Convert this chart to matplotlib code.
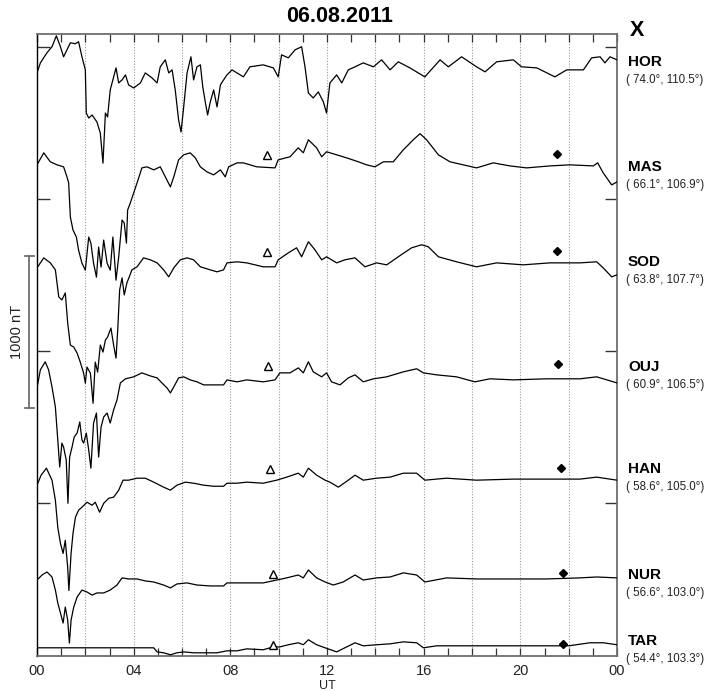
import matplotlib
matplotlib.use("Agg")
import matplotlib.pyplot as plt
import matplotlib.transforms as mtransforms

plt.rcParams['font.family'] = ['Liberation Sans', 'DejaVu Sans']

# ---------------- data (X component, nT deviation from each station's quiet level) ----------------
stations = ['HOR', 'MAS', 'SOD', 'OUJ', 'HAN', 'NUR', 'TAR']
coords = ['( 74.0°, 110.5°)', '( 66.1°, 106.9°)', '( 63.8°, 107.7°)', '( 60.9°, 106.5°)',
          '( 58.6°, 105.0°)', '( 56.6°, 103.0°)', '( 54.4°, 103.3°)']
offsets = [3850, 3225, 2580, 1810, 1150, 500, 60]   # plotting level of each station (nT)

HOR_t = [0.00,0.14,0.41,0.62,0.80,0.97,1.10,1.24,1.38,1.59,
         1.72,1.86,2.00,2.04,2.14,2.28,2.48,2.62,2.73,2.83,
         2.92,3.03,3.27,3.38,3.52,3.66,3.79,4.00,4.28,4.48,
         4.76,4.97,5.10,5.31,5.45,5.59,5.72,5.86,5.96,6.07,
         6.21,6.37,6.48,6.62,6.76,6.86,6.97,7.06,7.17,7.31,
         7.45,7.59,7.72,7.86,8.07,8.54,8.81,9.36,9.78,9.98,
         10.12,10.40,10.68,10.95,11.09,11.23,11.43,11.64,11.85,11.98,
         12.12,12.40,12.61,12.88,13.16,13.50,13.92,14.26,14.61,14.95,
         15.43,16.05,16.68,17.02,17.57,18.19,18.54,19.02,19.71,20.05,
         20.68,21.43,21.92,22.61,22.95,23.30,23.50,23.71,24.00]
HOR_x = [-20,46,112,152,224,152,86,132,178,172,
         185,86,0,-284,-317,-297,-343,-416,-614,-284,
         -310,-132,13,-86,-66,-33,-99,-119,-86,-20,
         -53,-86,20,66,-20,0,-132,-330,-409,-244,
         -20,86,-66,20,33,-112,-218,-297,-211,-132,
         -244,-99,-66,-33,0,-46,20,33,13,-46,
         99,79,132,152,20,-152,-185,-145,-211,-284,
         -86,-33,-86,0,20,46,20,66,0,53,
         13,-46,66,20,86,20,-13,53,66,20,
         13,-46,0,0,79,86,46,86,66]

MAS_t = [0.00,0.28,0.55,0.83,1.10,1.24,1.31,1.38,1.49,1.63,
         1.72,1.86,2.00,2.14,2.23,2.34,2.46,2.55,2.65,2.76,
         2.90,3.03,3.14,3.27,3.38,3.52,3.61,3.70,3.75,3.86,
         4.00,4.14,4.34,4.55,4.83,5.10,5.31,5.52,5.66,5.86,
         6.07,6.34,6.55,6.76,7.03,7.31,7.59,7.79,7.93,8.28,
         8.54,9.09,9.85,9.98,10.47,10.81,11.02,11.23,11.57,11.78,
         11.98,12.40,12.81,13.30,13.64,13.98,14.33,14.74,15.16,15.57,
         15.85,16.12,16.61,17.09,17.64,18.19,18.88,19.57,20.26,21.23,
         22.05,23.02,23.20,23.43,23.78,24.00]
MAS_x = [0,79,20,0,-13,-79,-119,-343,-429,-475,
         -561,-647,-693,-475,-515,-647,-739,-541,-673,-495,
         -647,-693,-475,-759,-607,-363,-383,-515,-297,-251,
         -185,-119,-20,-13,-33,-13,-79,-145,-79,33,
         66,79,46,-13,-46,-66,-33,-79,-13,13,
         13,-13,-20,33,53,112,79,165,112,53,
         86,66,46,20,0,-13,20,20,99,165,
         205,165,66,20,0,-20,13,-7,-20,-7,
         0,-7,13,-53,-132,-112]

SOD_t = [0.00,0.28,0.55,0.76,0.90,1.03,1.17,1.27,1.38,1.52,
         1.66,1.79,1.93,2.00,2.07,2.21,2.32,2.41,2.51,2.62,
         2.73,2.83,2.92,3.06,3.17,3.27,3.34,3.42,3.52,3.61,
         3.72,3.93,4.14,4.41,4.69,4.97,5.24,5.45,5.66,5.93,
         6.21,6.48,6.76,7.17,7.45,7.72,7.86,8.28,8.68,9.36,
         9.85,9.98,10.40,10.74,10.95,11.23,11.50,11.78,11.98,12.40,
         12.74,13.16,13.57,14.05,14.47,14.95,15.50,15.92,16.19,16.61,
         17.36,18.19,19.02,20.12,21.23,22.47,23.16,23.43,23.78,24.00]
SOD_x = [-33,33,0,-46,-224,-244,-198,-396,-541,-554,
         -594,-653,-726,-792,-686,-726,-924,-653,-719,-541,
         -587,-508,-488,-429,-541,-627,-442,-178,-99,-211,
         -132,-46,-26,33,20,0,-46,-92,-33,20,
         33,20,-26,-46,-59,-46,0,7,0,-26,
         -26,20,66,99,40,139,86,20,40,0,
         20,33,-26,0,-13,40,99,119,106,40,
         7,-26,0,-13,0,0,7,-33,-92,-79]

OUJ_t = [0.00,0.14,0.34,0.48,0.62,0.76,0.86,0.94,1.03,1.10,
         1.21,1.28,1.35,1.45,1.54,1.66,1.77,1.86,1.93,2.04,
         2.14,2.23,2.34,2.46,2.55,2.65,2.76,2.90,3.03,3.17,
         3.31,3.45,3.66,4.00,4.34,4.69,4.97,5.17,5.38,5.52,
         5.66,5.86,6.07,6.34,6.62,6.90,7.31,7.72,7.86,8.28,
         8.68,9.36,9.85,10.05,10.47,10.81,11.02,11.23,11.43,11.78,
         11.98,12.19,12.54,12.88,13.16,13.50,13.92,14.47,15.16,15.71,
         15.99,16.54,17.36,18.12,18.74,19.71,21.09,22.47,23.16,24.00]
OUJ_x = [-53,66,119,66,-46,-178,-396,-574,-416,-442,
         -528,-812,-508,-442,-376,-350,-277,-396,-416,-350,
         -462,-581,-284,-218,-508,-310,-244,-218,-284,-198,
         -132,-20,7,20,46,26,13,-20,-53,-86,
         -46,13,20,0,-13,-33,-33,-33,0,-13,
         0,-13,0,46,46,79,46,119,53,20,
         46,-13,-33,13,33,-13,7,20,53,73,
         46,33,20,-13,7,0,7,7,20,-20]

HAN_t = [0.00,0.17,0.39,0.62,0.76,0.86,0.97,1.08,1.17,1.27,
         1.32,1.41,1.49,1.59,1.72,1.86,2.07,2.28,2.41,2.59,
         2.76,2.97,3.17,3.38,3.56,3.79,4.14,4.48,4.83,5.24,
         5.52,5.79,6.14,6.48,6.90,7.31,7.72,7.86,8.28,8.68,
         9.36,9.92,10.33,10.81,11.02,11.23,11.57,11.92,12.12,12.47,
         12.88,13.16,13.50,14.05,14.61,15.16,15.71,16.05,16.95,18.19,
         19.71,21.09,22.47,23.16,24.00]
HAN_x = [-33,33,79,0,-132,-310,-416,-482,-396,-574,
         -726,-482,-350,-244,-198,-178,-145,-165,-145,-211,
         -152,-119,-112,-66,0,0,13,13,-13,-46,
         -66,-33,-13,-20,-33,-40,-40,-20,-20,-13,
         -20,0,20,46,20,79,33,0,-13,-46,
         0,33,0,13,20,46,46,0,13,0,
         7,7,7,20,0]

NUR_t = [0.00,0.21,0.41,0.62,0.76,0.86,0.97,1.08,1.17,1.27,
         1.34,1.41,1.52,1.66,1.86,2.07,2.28,2.48,2.76,3.03,
         3.31,3.52,3.79,4.14,4.48,4.83,5.24,5.52,5.79,6.21,
         6.62,7.17,7.72,7.86,8.28,8.68,9.36,9.92,10.33,10.81,
         11.02,11.23,11.57,11.92,12.26,12.67,13.16,13.50,14.05,14.61,
         15.16,15.71,16.05,16.95,18.19,19.71,21.09,22.47,23.16,24.00]
NUR_x = [-7,26,46,13,-73,-158,-224,-290,-185,-271,
         -422,-271,-185,-119,-73,-86,-106,-92,-92,-73,
         -40,7,0,0,-13,-20,-40,-59,-33,-26,
         -40,-46,-46,-26,-26,-26,-26,-7,7,26,
         7,59,7,-20,-40,-20,26,-7,7,13,
         40,26,-20,7,0,0,0,7,13,7]

TAR_t = [0.00,4.83,4.97,5.24,5.52,5.79,6.07,6.48,6.90,7.45,
         7.86,8.28,8.68,9.36,9.78,10.05,10.40,10.81,11.02,11.23,
         11.57,11.92,12.40,12.74,13.16,13.50,14.05,14.61,15.16,15.71,
         15.99,16.54,18.00,20.00,22.00,22.88,23.43,24.00]
TAR_x = [-13,-13,-40,-46,-59,-46,-40,-46,-46,-46,
         -33,-33,-20,-26,-7,-7,7,20,7,40,
         7,-13,-40,-13,20,0,7,13,26,20,
         -13,0,0,0,0,20,20,7]

series_t = [HOR_t, MAS_t, SOD_t, OUJ_t, HAN_t, NUR_t, TAR_t]
series_x = [HOR_x, MAS_x, SOD_x, OUJ_x, HAN_x, NUR_x, TAR_x]

# open triangles (~09:30 UT) and filled diamonds (~21:30 UT), stations MAS..TAR
tri_t = [9.50, 9.50, 9.57, 9.64, 9.75, 9.75]
tri_x = [66, 73, 92, 73, 33, 7]
dia_t = [21.53, 21.50, 21.57, 21.67, 21.75, 21.75]
dia_x = [73, 79, 106, 79, 40, 13]

xtick_hours = [0, 4, 8, 12, 16, 20, 24]
xtick_labels = ['00', '04', '08', '12', '16', '20', '00']
scale_nT = 1000

# ---------------- figure ----------------
W, H = 716, 691
fig = plt.figure(figsize=(W / 100, H / 100), dpi=100)
ax = fig.add_axes([37 / W, 1 - 656 / H, 580 / W, 622 / H])
ax.set_xlim(0, 24)
ax.set_ylim(-7, 4086)

# dotted grid at even hours
for h in range(2, 24, 2):
    ax.axvline(h, color='#9a9a9a', lw=0.8, ls=(0, (1, 1.5)), zorder=1)

for t, x, off in zip(series_t, series_x, offsets):
    ax.plot(t, [off + v for v in x], color='black', lw=0.9, zorder=3)

ax.plot(tri_t, [o + v for o, v in zip(offsets[1:], tri_x)], ls='none', marker='^',
        ms=6, mfc='white', mec='black', mew=1.0, zorder=4)
ax.plot(dia_t, [o + v for o, v in zip(offsets[1:], dia_x)], ls='none', marker='D',
        ms=4, mfc='black', mec='black', zorder=4)

# ticks
ax.set_xticks(xtick_hours)
ax.set_xticklabels(xtick_labels, fontsize=10.5, color='#222222')
ax.set_xticks(range(0, 25), minor=True)
ax.tick_params(axis='x', which='both', direction='in', length=6, width=0.9,
               top=True, bottom=True, color='#333333', pad=6)
ax.set_yticks([1000, 2000, 3000, 4000])
ax.set_yticklabels([])
ax.tick_params(axis='y', direction='in', length=9, width=1.0, left=True, right=True,
               color='#333333')
ax.set_xlabel('UT', fontsize=9, color='#222222', labelpad=1)

for side in ['top', 'right', 'bottom']:
    ax.spines[side].set_color('#6e6e6e')
    ax.spines[side].set_linewidth(1.3)
ax.spines['left'].set_color('black')
ax.spines['left'].set_linewidth(1.0)

# 1000 nT scale bar on the left
trans = mtransforms.blended_transform_factory(fig.transFigure, ax.transData)
y0, y1 = 1625, 1625 + scale_nT
bx = 29 / W
ax.plot([bx, bx], [y0, y1], transform=trans, color='#6e6e6e', lw=1.3, clip_on=False)
for yy in (y0, y1):
    ax.plot([25 / W, 34 / W], [yy, yy], transform=trans, color='#6e6e6e', lw=1.3,
            clip_on=False)
ax.text(17 / W, (y0 + y1) / 2, f'{scale_nT} nT', transform=trans, rotation=90,
        ha='center', va='center', fontsize=10.5, color='#222222')

# titles
fig.text(340 / W, 1 - 17 / H, '06.08.2011', ha='center', va='center',
         fontsize=15.5, fontweight='bold')
fig.text(637 / W, 1 - 30 / H, 'X', ha='center', va='center',
         fontsize=15.5, fontweight='bold')

# station labels
name_y = [62, 167, 262, 367, 469, 575, 641]
for name, crd, yy in zip(stations, coords, name_y):
    fig.text(628 / W, 1 - yy / H, name, ha='left', va='center',
             fontsize=11, fontweight='bold')
    fig.text(626 / W, 1 - (yy + 18) / H, crd, ha='left', va='center',
             fontsize=8.3, color='#222222')

fig.savefig('out.png', dpi=100)
